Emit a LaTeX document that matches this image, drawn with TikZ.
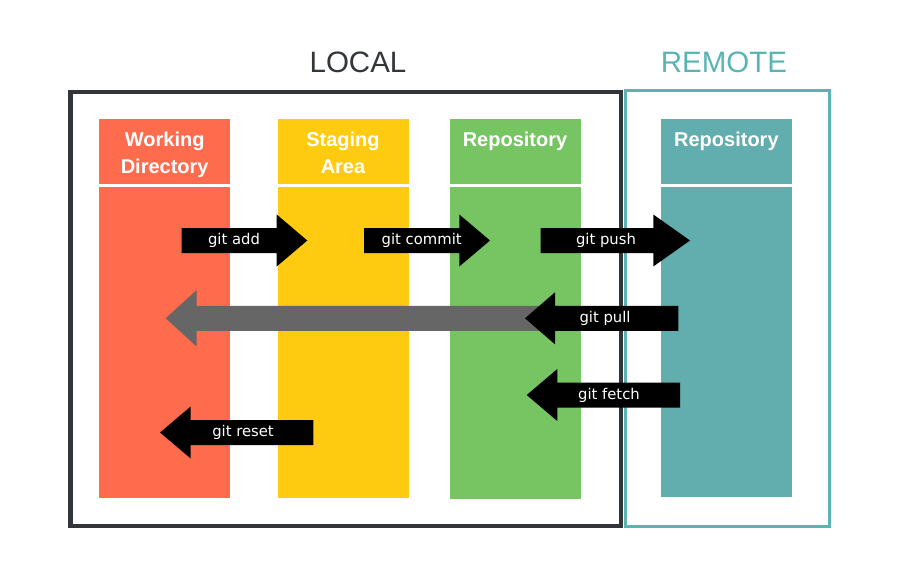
\documentclass[tikz,border=0pt]{standalone}
\usepackage{fontspec}
\setmainfont{Liberation Sans}
\newfontfamily\cmdfont{DejaVu Sans}
\usetikzlibrary{positioning}
\definecolor{wdorange}{RGB}{255,107,77}
\definecolor{sayellow}{RGB}{255,203,16}
\definecolor{rpgreen}{RGB}{118,197,98}
\definecolor{rmteal}{RGB}{98,173,174}
\definecolor{rmline}{RGB}{90,180,180}
\definecolor{lcdark}{RGB}{50,54,58}
\definecolor{pullgray}{RGB}{102,102,102}

% block arrow: [colour]{tail x}{head base x}{tip x}{y}{half head}
\newcommand{\gitarrow}[6][black]{%
  \fill[#1] (#2,{#5-12.5}) -- (#3,{#5-12.5}) -- (#3,{#5-#6}) -- (#4,#5)
    -- (#3,{#5+#6}) -- (#3,{#5+12.5}) -- (#2,{#5+12.5}) -- cycle;}

\tikzset{
  colhead/.style={minimum width=131, minimum height=65, inner sep=0pt, anchor=north west},
  colbody/.style={minimum width=131, minimum height=310, inner sep=0pt, anchor=north west},
  headtext/.style={text=white, align=center, inner sep=0pt,
    font=\fontsize{20}{27}\selectfont\bfseries},
  areatitle/.style={font=\fontsize{29.5}{32}\selectfont, inner sep=0pt},
  cmdlabel/.style={text=white, inner sep=0pt, font=\cmdfont\fontsize{14.8}{16}\selectfont},
}

\begin{document}
\begin{tikzpicture}[x=1pt, y=-1pt]
\useasboundingbox (0,0) rectangle (918,580);

% Frames
\draw[lcdark, line width=4.5pt] (70.5,92) rectangle (621,526);
\draw[rmline, line width=3pt] (625.5,91) rectangle (829,526);
\node[areatitle, text=lcdark] (localtitle) at (358,62) {LOCAL};
\node[areatitle, text=rmline] (remotetitle) at (724,62) {REMOTE};

% Working directory
\node[colhead, fill=wdorange] (wdhead) at (99,119) {};
\node[colbody, fill=wdorange] (wdbody) at (99,187.3) {};
\node[headtext, below=12.5pt of wdhead.north] (wdtext) {Working\\Directory};

% Staging area
\node[colhead, fill=sayellow] (sahead) at (277.3,119) {};
\node[colbody, fill=sayellow] (sabody) at (277.3,187.3) {};
\node[headtext, below=12.5pt of sahead.north] (satext) {Staging\\Area};

% Local repository
\node[colhead, fill=rpgreen] (rphead) at (449.3,119) {};
\node[colbody, fill=rpgreen, minimum height=311.5] (rpbody) at (449.3,187.3) {};
\node[headtext, below=12.5pt of rphead.north] (rptext) {Repository};

% Remote repository
\node[colhead, fill=rmteal] (rmhead) at (660.7,119) {};
\node[colbody, fill=rmteal, minimum height=309] (rmbody) at (660.7,187.3) {};
\node[headtext, below=12.5pt of rmhead.north] (rmtext) {Repository};

% Pull into working directory (behind)
\gitarrow[pullgray]{560}{196.7}{165.7}{318.3}{28.3}

% Commands
\gitarrow{181.7}{276.7}{307.3}{240.5}{26}
\node[cmdlabel] (add) at (234,240.5) {git add};
\gitarrow{364}{459.3}{490}{240.5}{26}
\node[cmdlabel] (commit) at (421.7,240.5) {git commit};
\gitarrow{540.7}{653.3}{690}{240.5}{26}
\node[cmdlabel] (push) at (606,240.5) {git push};
\gitarrow{678.3}{555}{525}{318.3}{26}
\node[cmdlabel] (pull) at (605,318.3) {git pull};
\gitarrow{680}{557.3}{526.7}{395}{26}
\node[cmdlabel] (fetch) at (609,395) {git fetch};
\gitarrow{313.3}{190.7}{160}{432.5}{26}
\node[cmdlabel] (reset) at (243,432.5) {git reset};
\end{tikzpicture}
\end{document}
